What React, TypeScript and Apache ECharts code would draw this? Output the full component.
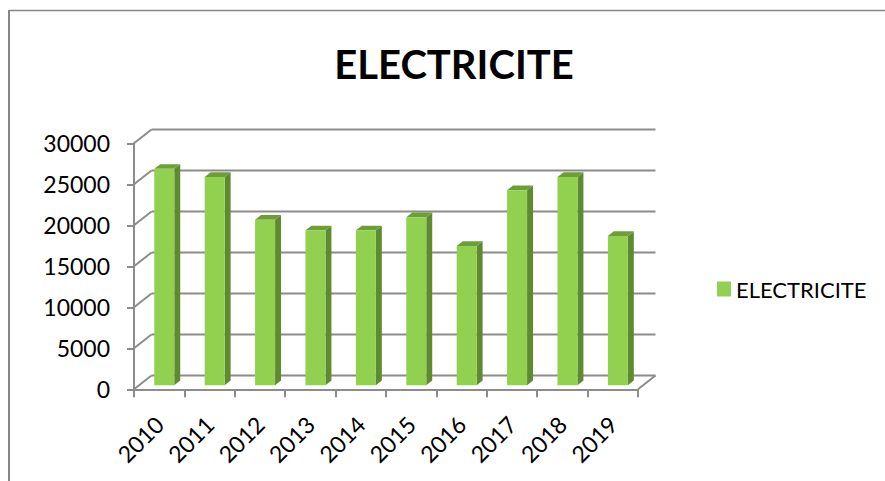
import React, { useEffect, useRef } from "react";
import * as echarts from "echarts";

const years = ["2010", "2011", "2012", "2013", "2014", "2015", "2016", "2017", "2018", "2019"];
const electricite = [26400, 25400, 20200, 18900, 18900, 20500, 17000, 23800, 25400, 18200];
const yTicks = [0, 5000, 10000, 15000, 20000, 25000, 30000];
const seriesName = "ELECTRICITE";
const titleText = "ELECTRICITE";

// pseudo-3D depth offsets (style constants)
const DX = 17.5;
const DY = -13.8;
const BAR_W = 20;
const BAR_F0 = 0.29;
const BAR_F1 = 0.63;

const FRONT = "#92D050";
const SIDE = "#5F8B30";
const TOP = "#6E9E3A";
const LINE = "#8C8C8C";
const FONT = "Lato, 'Open Sans', sans-serif";

export default function App() {
  const ref = useRef<HTMLDivElement>(null);

  useEffect(() => {
    const chart = echarts.init(ref.current as HTMLDivElement, null, { renderer: "svg" });
    chart.setOption({
      animation: false,
      textStyle: { fontFamily: FONT },
      grid: { left: 134, top: 143.3, width: 504, height: 246 },
      xAxis: {
        type: "category",
        data: years,
        axisLine: { show: true, lineStyle: { color: LINE, width: 2 } },
        axisTick: { show: true, length: 8, lineStyle: { color: LINE, width: 2 } },
        axisLabel: { rotate: 45, margin: 31, fontSize: 23, color: "#000", interval: 0, fontFamily: FONT },
        splitLine: { show: false },
      },
      yAxis: {
        type: "value",
        min: 0,
        max: 30000,
        interval: 5000,
        axisLine: { show: true, lineStyle: { color: LINE, width: 2 } },
        axisTick: { show: true, length: 7, lineStyle: { color: LINE, width: 2 } },
        axisLabel: {
          margin: 24,
          fontSize: 23,
          color: "#000",
          fontFamily: FONT,
          formatter: (v: number) => String(v),
        },
        splitLine: { show: false },
      },
      legend: {
        data: [seriesName],
        left: 717,
        top: 278,
        padding: 0,
        icon: "rect",
        itemWidth: 14,
        itemHeight: 15,
        textStyle: { fontSize: 22, color: "#000", fontFamily: FONT },
      },
      graphic: [
        { type: "line", shape: { x1: 9, y1: 10.5, x2: 885, y2: 10.5 }, style: { stroke: "#878787", lineWidth: 1.5 } },
        { type: "line", shape: { x1: 9, y1: 10, x2: 9, y2: 481 }, style: { stroke: "#878787", lineWidth: 2 } },
        {
          type: "text",
          x: 454,
          y: 64,
          style: {
            text: titleText,
            align: "center",
            verticalAlign: "middle",
            fontSize: 40,
            fontWeight: "bold",
            fontFamily: FONT,
            fill: "#000",
          },
        },
      ],
      series: [
        {
          type: "custom",
          name: "walls",
          silent: true,
          z: 1,
          data: yTicks.map((v) => [0, v]),
          renderItem: (params: any, api: any) => {
            const v = api.value(1);
            const cs = params.coordSys;
            const y = api.coord([0, v])[1];
            const l = cs.x;
            const r = cs.x + cs.width;
            const style = { stroke: LINE, lineWidth: 2, fill: null };
            const children: any[] = [
              { type: "line", shape: { x1: l, y1: y, x2: l + DX, y2: y + DY }, style },
              { type: "line", shape: { x1: l + DX, y1: y + DY, x2: r + DX, y2: y + DY }, style },
            ];
            if (v === 0) {
              children.push({ type: "line", shape: { x1: r, y1: y, x2: r + DX, y2: y + DY }, style });
            }
            return { type: "group", children };
          },
        },
        {
          type: "custom",
          name: seriesName,
          z: 3,
          itemStyle: { color: FRONT },
          data: electricite.map((v, i) => [i, v]),
          renderItem: (params: any, api: any) => {
            const i = api.value(0);
            const v = api.value(1);
            const c = api.coord([i, v]);
            const b = api.coord([i, 0]);
            const fx = c[0] + BAR_F0 * DX - BAR_W / 2;
            const fTop = c[1] + BAR_F0 * DY;
            const fBot = b[1] + BAR_F0 * DY;
            const ddx = (BAR_F1 - BAR_F0) * DX;
            const ddy = (BAR_F1 - BAR_F0) * DY;
            return {
              type: "group",
              children: [
                {
                  type: "polygon",
                  shape: {
                    points: [
                      [fx + BAR_W, fTop],
                      [fx + BAR_W + ddx, fTop + ddy],
                      [fx + BAR_W + ddx, fBot + ddy],
                      [fx + BAR_W, fBot],
                    ],
                  },
                  style: { fill: SIDE },
                },
                {
                  type: "polygon",
                  shape: {
                    points: [
                      [fx, fTop],
                      [fx + ddx, fTop + ddy],
                      [fx + BAR_W + ddx, fTop + ddy],
                      [fx + BAR_W, fTop],
                    ],
                  },
                  style: { fill: TOP },
                },
                {
                  type: "rect",
                  shape: { x: fx, y: fTop, width: BAR_W, height: fBot - fTop },
                  style: { fill: FRONT },
                },
              ],
            };
          },
        },
      ],
    });
    return () => chart.dispose();
  }, []);

  return (
    <div
      ref={ref}
      style={{ position: "absolute", left: 0, top: 0, width: 885, height: 481, background: "#fff" }}
    />
  );
}
